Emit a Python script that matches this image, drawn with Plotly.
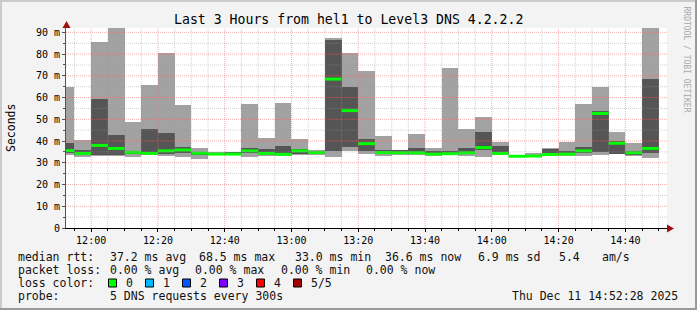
import plotly.graph_objects as go
import pandas as pd

# ---------------- data ----------------
interval_start = pd.date_range("2025-12-11 11:50:00", periods=36, freq="5min")
ping_max = [65.0, 40.7, 85.5, 95.0, 48.7, 65.7, 80.7, 56.5, 37.0, 34.8, 34.9, 57.0,
            41.3, 57.5, 41.0, 35.8, 87.4, 80.5, 72.2, 42.4, 35.9, 43.2, 36.7, 73.5,
            45.5, 51.0, 39.6, 33.3, 34.5, 36.6, 39.6, 56.9, 64.7, 44.2, 39.2, 95.0]
ping_hi = [39.3, 35.8, 59.4, 42.7, 35.5, 45.5, 43.7, 37.2, 35.0, 34.7, 34.8, 36.9,
           36.3, 37.7, 36.4, 35.3, 86.3, 65.0, 40.9, 35.8, 35.7, 36.7, 35.5, 35.3,
           36.7, 44.1, 37.8, 33.2, 33.6, 36.3, 35.5, 37.2, 53.7, 39.8, 35.4, 68.6]
ping_median = [35.6, 34.3, 38.0, 36.6, 34.8, 34.3, 35.5, 35.9, 34.4, 34.0, 34.0, 35.5,
               34.3, 33.9, 35.5, 34.7, 68.5, 54.0, 38.8, 34.7, 34.6, 34.6, 34.0, 34.2,
               34.6, 37.0, 34.3, 33.0, 33.1, 33.8, 34.0, 35.5, 52.7, 39.0, 34.6, 36.6]
ping_lo = [34.5, 33.5, 33.6, 33.5, 34.0, 33.8, 34.0, 34.4, 33.8, 33.6, 33.6, 34.3,
           33.8, 33.5, 34.0, 34.0, 35.5, 37.3, 35.4, 34.0, 34.0, 34.0, 33.6, 33.9,
           34.0, 35.8, 33.9, 32.9, 32.9, 33.5, 33.6, 34.4, 35.0, 34.2, 33.8, 34.6]
ping_min = [33.5, 32.8, 33.0, 33.0, 32.7, 33.5, 33.2, 32.7, 31.8, 33.4, 33.5, 32.7,
            33.2, 33.3, 33.6, 33.4, 32.7, 35.5, 34.1, 33.2, 33.7, 33.6, 33.2, 33.6,
            33.2, 32.6, 33.5, 32.8, 32.7, 33.2, 33.2, 33.2, 33.8, 33.9, 33.2, 32.0]

y_tick_vals = [0, 10, 20, 30, 40, 50, 60, 70, 80, 90]
y_tick_text = ["0", "10 m", "20 m", "30 m", "40 m", "50 m", "60 m", "70 m", "80 m", "90 m"]

loss_labels = ["0", "1", "2", "3", "4", "5/5"]
loss_colors = ["#00ff00", "#00b8ff", "#0059ff", "#7e00ff", "#ff0000", "#a10000"]

title_text = "Last 3 Hours from hel1 to Level3 DNS 4.2.2.2"
range_start = pd.Timestamp("2025-12-11 11:52:28")
range_end = pd.Timestamp("2025-12-11 14:52:28")

# ---------------- geometry ----------------
W, H = 697, 310
L, R, T, B = 66, 30, 28, 82
PW, PH = W - L - R, H - T - B
MONO = "DejaVu Sans Mono"


def px(x):
    return (x - L) / PW


def py(y):
    return (H - B - y) / PH


step = pd.Timedelta(minutes=5)
centers = interval_start + step / 2
width_ms = step.total_seconds() * 1000

fig = go.Figure()
fig.add_trace(go.Bar(x=centers, y=[a - b for a, b in zip(ping_max, ping_min)], base=ping_min,
                     width=width_ms, marker=dict(color="#a2a2a2", line=dict(width=0)),
                     hoverinfo="skip"))
fig.add_trace(go.Bar(x=centers, y=[a - b for a, b in zip(ping_hi, ping_lo)], base=ping_lo,
                     width=width_ms, marker=dict(color="#555555", line=dict(width=0)),
                     hoverinfo="skip"))
mx, my = [], []
for s, m in zip(interval_start, ping_median):
    mx += [s, s + step, None]
    my += [m, m, None]
fig.add_trace(go.Scatter(x=mx, y=my, mode="lines", line=dict(color="#00ff00", width=3),
                         hoverinfo="skip", cliponaxis=True))

shapes = []
# grid lines on top of the smoke
t = pd.Timestamp("2025-12-11 11:55:00")
while t <= range_end:
    major = (t.minute % 20 == 0)
    shapes.append(dict(type="line", xref="x", yref="paper", x0=t, x1=t, y0=0, y1=1, layer="above",
                       line=dict(color="rgba(235,110,110,0.55)" if major else "rgba(150,150,150,0.45)",
                                 width=1, dash="1px,1px")))
    t += step
for v in range(5, 95, 5):
    if v > 92:
        break
    major = (v % 10 == 0)
    shapes.append(dict(type="line", xref="paper", yref="y", x0=0, x1=1, y0=v, y1=v, layer="above",
                       line=dict(color="rgba(235,110,110,0.55)" if major else "rgba(150,150,150,0.45)",
                                 width=1, dash="1px,1px")))

# axis arrows
shapes.append(dict(type="path", xref="paper", yref="paper", layer="above",
                   path=f"M {px(62.5)},{py(28)} L {px(70.5)},{py(28)} L {px(66.5)},{py(21)} Z",
                   fillcolor="#a01010", line=dict(width=0)))
shapes.append(dict(type="path", xref="paper", yref="paper", layer="above",
                   path=f"M {px(667)},{py(224.5)} L {px(667)},{py(232.5)} L {px(674)},{py(228.5)} Z",
                   fillcolor="#a01010", line=dict(width=0)))

# frame
shapes.append(dict(type="rect", xref="paper", yref="paper", x0=px(0), x1=px(2), y0=py(310), y1=py(0),
                   fillcolor="#cbcbcb", line=dict(width=0), layer="below"))
shapes.append(dict(type="rect", xref="paper", yref="paper", x0=px(0), x1=px(697), y0=py(2), y1=py(0),
                   fillcolor="#cbcbcb", line=dict(width=0), layer="below"))
shapes.append(dict(type="rect", xref="paper", yref="paper", x0=px(695), x1=px(697), y0=py(310), y1=py(0),
                   fillcolor="#9a9a9a", line=dict(width=0), layer="below"))
shapes.append(dict(type="rect", xref="paper", yref="paper", x0=px(0), x1=px(697), y0=py(310), y1=py(308),
                   fillcolor="#9a9a9a", line=dict(width=0), layer="below"))

annotations = []


def text(x, y, s, size=11.5, anchor="left", color="#111111", angle=0):
    annotations.append(dict(xref="paper", yref="paper", x=px(x), y=py(y), text=s, showarrow=False,
                            xanchor=anchor, yanchor="middle", textangle=angle,
                            font=dict(family=MONO, size=size, color=color)))


text(348, 19.5, title_text, size=13.2, anchor="center", color="#000000")
text(11, 128, "Seconds", size=11.5, anchor="center", angle=-90, color="#000000")
text(686.5, 59, "RRDTOOL / TOBI OETIKER", size=8, anchor="center", angle=90, color="#a8a8a8")

rows = [257, 270, 283, 296]
text(16, rows[0], "median rtt:")
line1 = [(107.5, "37.2 ms avg"), (197, "68.5 ms max"), (293, "33.0 ms min"),
         (383, "36.6 ms now"), (476, "6.9 ms sd"), (557, "5.4"), (600, "am/s")]
for x, s in line1:
    text(x, rows[0], s)
text(16, rows[1], "packet loss:")
line2 = [(107.5, "0.00 % avg"), (193, "0.00 % max"), (279, "0.00 % min"), (364, "0.00 % now")]
for x, s in line2:
    text(x, rows[1], s)
text(16, rows[2], "loss color:")
for i, (lab, col) in enumerate(zip(loss_labels, loss_colors)):
    bx = 108.5 + i * 37
    shapes.append(dict(type="rect", xref="paper", yref="paper", x0=px(bx), x1=px(bx + 8),
                       y0=py(rows[2] + 4), y1=py(rows[2] - 4), fillcolor=col,
                       line=dict(color="#000000", width=1)))
    text(bx + 15.5, rows[2], lab)
text(16, rows[3], "probe:")
text(107.5, rows[3], "5 DNS requests every 300s")
text(680, rows[3], "Thu Dec 11 14:52:28 2025", anchor="right")

fig.update_layout(
    width=W, height=H, margin=dict(l=L, r=R, t=T, b=B, pad=0),
    paper_bgcolor="#f3f3f3", plot_bgcolor="#ffffff",
    barmode="overlay", bargap=0, showlegend=False,
    shapes=shapes, annotations=annotations,
    xaxis=dict(type="date", range=[range_start, range_end], showgrid=False, zeroline=False,
               showline=True, linecolor="#000000", linewidth=1,
               tickmode="linear", tick0="2025-12-11 12:00:00", dtick=20 * 60 * 1000,
               tickformat="%H:%M", ticks="outside", ticklen=3, tickcolor="#000000",
               tickfont=dict(family=MONO, size=10, color="#000000"),
               minor=dict(ticks="outside", ticklen=2, tickcolor="#000000", dtick=5 * 60 * 1000,
                          tick0="2025-12-11 12:00:00", showgrid=False),
               fixedrange=True),
    yaxis=dict(range=[0, 92], showgrid=False, zeroline=False, showline=True,
               linecolor="#555555", linewidth=1,
               tickmode="array", tickvals=y_tick_vals, ticktext=y_tick_text,
               ticks="outside", ticklen=3, tickcolor="#555555",
               tickfont=dict(family=MONO, size=10, color="#000000"),
               minor=dict(ticks="outside", ticklen=2, tickcolor="#555555", dtick=5, showgrid=False),
               fixedrange=True),
)

fig.write_html("out.html", config={"displayModeBar": False})
